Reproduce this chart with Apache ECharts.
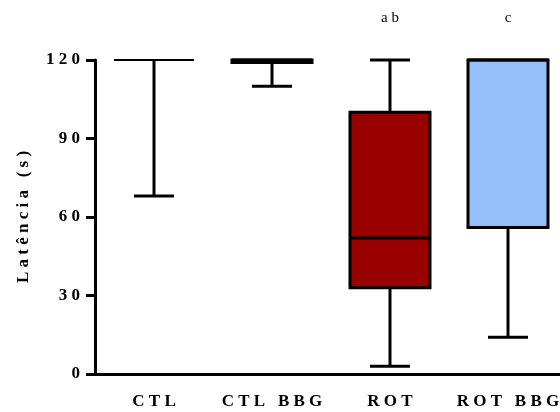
<!DOCTYPE html>
<html>
<head>
<meta charset="utf-8">
<script src="https://cdn.jsdelivr.net/npm/echarts@6/dist/echarts.min.js"></script>
<style>
  html, body { margin: 0; padding: 0; background: #fff; }
  #chart { width: 560px; height: 412px; }
</style>
</head>
<body>
<div id="chart"></div>
<script>
// groups on the x axis
var groups = ['CTL', 'CTL BBG', 'ROT', 'ROT BBG'];
// [min, Q1, median, Q3, max]
var boxMin = [68, 110, 3, 14];
var boxQ1 = [120, 119, 33, 56];
var boxMedian = [120, 120, 52, 120];
var boxQ3 = [120, 120, 100, 120];
var boxMax = [120, 120, 120, 120];
var fills = ['#ffffff', '#ffffff', '#990000', '#94c0f7'];
var letters = ['', '', 'ab', 'c'];
var yTicks = [0, 30, 60, 90, 120];

function spaced(s) {
  return s.split('').join(' ');
}

var data = groups.map(function (g, i) {
  return [i, boxMin[i], boxQ1[i], boxMedian[i], boxQ3[i], boxMax[i]];
});

function renderBox(params, api) {
  var i = api.value(0);
  var pMin = api.coord([i, api.value(1)]);
  var pQ1 = api.coord([i, api.value(2)]);
  var pMed = api.coord([i, api.value(3)]);
  var pQ3 = api.coord([i, api.value(4)]);
  var pMax = api.coord([i, api.value(5)]);
  var x = pMed[0];
  var halfBox = 40;
  var halfCap = 20;
  var lw = 3;
  var st = { stroke: '#000', lineWidth: lw, fill: null };
  var kids = [
    { type: 'line', shape: { x1: x, y1: pQ1[1], x2: x, y2: pMin[1] }, style: st },
    { type: 'line', shape: { x1: x - halfCap, y1: pMin[1], x2: x + halfCap, y2: pMin[1] }, style: st }
  ];
  if (api.value(5) > api.value(4)) {
    kids.push({ type: 'line', shape: { x1: x, y1: pQ3[1], x2: x, y2: pMax[1] }, style: st });
    kids.push({ type: 'line', shape: { x1: x - halfCap, y1: pMax[1], x2: x + halfCap, y2: pMax[1] }, style: st });
  }
  if (pQ1[1] - pQ3[1] > 1) {
    kids.push({
      type: 'rect',
      shape: { x: x - halfBox, y: pQ3[1], width: halfBox * 2, height: pQ1[1] - pQ3[1] },
      style: { fill: fills[i], stroke: '#000', lineWidth: lw }
    });
  }
  // collapsed boxes (CTL) show as a thinner line
  var medW = (pQ1[1] - pQ3[1] > 1 || i === 1) ? lw : 2;
  kids.push({ type: 'line', shape: { x1: x - halfBox, y1: pMed[1], x2: x + halfBox, y2: pMed[1] }, style: { stroke: '#000', lineWidth: medW } });
  if (letters[i]) {
    kids.push({
      type: 'text',
      style: {
        x: x, y: pMax[1] - 42,
        text: spaced(letters[i]),
        textAlign: 'center', textVerticalAlign: 'middle',
        font: '15px "Liberation Serif"', fill: '#000'
      }
    });
  }
  return { type: 'group', children: kids };
}

var chart = echarts.init(document.getElementById('chart'));
chart.setOption({
  animation: false,
  grid: { left: 95, width: 472, top: 60, bottom: 38, outerBoundsMode: 'none', containLabel: false },
  xAxis: {
    type: 'category',
    data: groups,
    axisLine: { lineStyle: { color: '#000', width: 3 } },
    axisTick: { alignWithLabel: true, length: 7, lineStyle: { color: '#000', width: 2 } },
    axisLabel: {
      color: '#000', fontFamily: 'Liberation Serif', fontWeight: 'bold', fontSize: 17,
      margin: 19, interval: 0, hideOverlap: false, formatter: spaced
    }
  },
  yAxis: {
    type: 'value',
    min: 0, max: 120, interval: 30,
    name: spaced('Latência (s)'),
    nameLocation: 'middle',
    nameGap: 63,
    nameTextStyle: { color: '#000', fontFamily: 'Liberation Serif', fontWeight: 'bold', fontSize: 17 },
    axisLine: { show: true, lineStyle: { color: '#000', width: 3 } },
    axisTick: { show: true, length: 9, lineStyle: { color: '#000', width: 3 } },
    splitLine: { show: false },
    axisLabel: {
      color: '#000', fontFamily: 'Liberation Serif', fontWeight: 'bold', fontSize: 17,
      margin: 15,
      formatter: function (v) { return yTicks.indexOf(v) >= 0 ? spaced(String(v)) : ''; }
    }
  },
  series: [{
    type: 'custom',
    renderItem: renderBox,
    encode: { x: 0, y: [1, 2, 3, 4, 5] },
    data: data,
    clip: false
  }]
});
</script>
</body>
</html>
